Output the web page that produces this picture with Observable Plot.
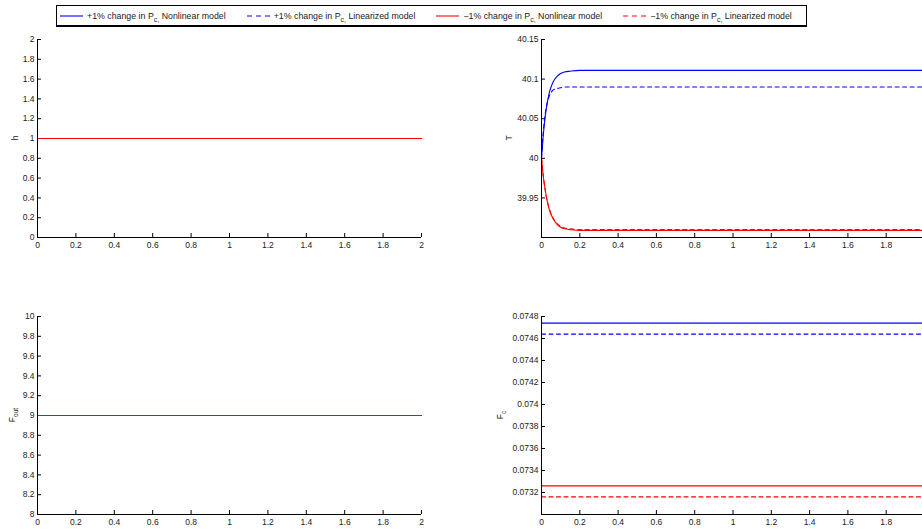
<!DOCTYPE html>
<html><head><meta charset="utf-8">
<script src="https://cdn.jsdelivr.net/npm/d3@7"></script>
<script src="https://cdn.jsdelivr.net/npm/@observablehq/plot@0.6"></script>
<style>
html,body{margin:0;padding:0;background:#fff;}
#wrap{position:relative;width:922px;height:529px;overflow:hidden;background:#fff;font-family:"Liberation Sans",Arial,Helvetica,sans-serif;}
.panel{position:absolute;}
#legend{position:absolute;left:56px;top:5px;width:746px;height:19px;border:1px solid #000;border-bottom:2px solid #000;font-size:8.8px;color:#222;display:flex;align-items:center;padding-left:3px;box-sizing:content-box;}
.item{display:flex;align-items:center;white-space:nowrap;margin-right:21px;}
.item svg{margin-right:4px;}
.item sub{font-size:7px;vertical-align:-3px;line-height:0;}
</style></head><body><div id="wrap"><div id="legend"></div></div>
<script>
// ---- data ----
const xTicks = [0, 0.2, 0.4, 0.6, 0.8, 1, 1.2, 1.4, 1.6, 1.8, 2];
const hTicks = [0, 0.2, 0.4, 0.6, 0.8, 1, 1.2, 1.4, 1.6, 1.8, 2];
const foutTicks = [8, 8.2, 8.4, 8.6, 8.8, 9, 9.2, 9.4, 9.6, 9.8, 10];
const TTicks = [39.95, 40, 40.05, 40.1, 40.15];
const FcTicks = [0.0732, 0.0734, 0.0736, 0.0738, 0.074, 0.0742, 0.0744, 0.0746, 0.0748];

const legendPrefix = ["+1% change in P", "+1% change in P", "\u22121% change in P", "\u22121% change in P"];
const legendSub = ["c,", "c,", "c,", "c,"];
const legendModel = [" Nonlinear model", " Linearized model", " Nonlinear model", " Linearized model"];

// steady-state series (time 0 to 2)
const tFlat = [0, 2];
const hValues = [1, 1, 1, 1];
const foutValues = [9, 9, 9, 9];
const FcValues = [0.07474, 0.07464, 0.07326, 0.07316];

// temperature transient
const tTime = [0, 0.01, 0.02, 0.03, 0.04, 0.05, 0.06, 0.08, 0.10, 0.12, 0.15, 0.2, 0.3, 0.5, 1, 1.5, 2];
const TposNonlin = [40, 40.031, 40.054, 40.070, 40.082, 40.090, 40.096, 40.103, 40.107, 40.109, 40.110, 40.111, 40.111, 40.111, 40.111, 40.111, 40.111];
const TposLin    = [40, 40.035, 40.057, 40.070, 40.078, 40.083, 40.086, 40.088, 40.089, 40.090, 40.090, 40.090, 40.090, 40.090, 40.090, 40.090, 40.090];
const TnegNonlin = [40, 39.976, 39.959, 39.946, 39.936, 39.929, 39.924, 39.917, 39.913, 39.911, 39.910, 39.909, 39.909, 39.909, 39.909, 39.909, 39.909];
const TnegLin    = [40, 39.976, 39.959, 39.946, 39.937, 39.930, 39.925, 39.918, 39.914, 39.912, 39.911, 39.910, 39.910, 39.910, 39.910, 39.910, 39.910];

// ---- styles ----
const colors = ["#0000ff", "#0000ff", "#ff0000", "#ff0000"];
const dashes = [null, "4,3.5", null, "4,3.5"];
const FONT = '"Liberation Sans", Arial, Helvetica, sans-serif';

function flatSeries(vals) {
  return vals.map(v => tFlat.map(t => ({t, v})));
}
const Tseries = [TposNonlin, TposLin, TnegNonlin, TnegLin].map(arr => arr.map((v, i) => ({t: tTime[i], v})));

const wrap = document.getElementById("wrap");

function panel({left, top, ml, innerW, yDomain, yTicks, yFmt, series, label, sub, labelX}) {
  const innerH = 198, mt = 9, mb = 22, mr = 15;
  const chart = Plot.plot({
    width: ml + innerW + mr, height: mt + innerH + mb,
    marginLeft: ml, marginRight: mr, marginTop: mt, marginBottom: mb,
    style: {fontFamily: FONT, fontSize: "8.5px", color: "#222", background: "transparent", maxWidth: "none", overflow: "visible"},
    x: {domain: [0, 2], label: null},
    y: {domain: yDomain, label: null},
    marks: [
      Plot.tickX(xTicks, {x: d => d, insetTop: innerH - 4, stroke: "#000", strokeWidth: 1}),
      Plot.tickY(yTicks, {y: d => d, insetRight: innerW - 4, stroke: "#000", strokeWidth: 1}),
      Plot.axisX(xTicks, {tickSize: 0, tickPadding: 4, tickFormat: d => String(+d.toFixed(1)), label: null}),
      Plot.axisY(yTicks, {tickSize: 0, tickPadding: 3, tickFormat: yFmt, label: null}),
      ...series.map((s, i) => Plot.line(s, {x: "t", y: "v", stroke: colors[i], strokeWidth: 1.1, strokeDasharray: dashes[i], curve: "monotone-x"})),
      Plot.ruleX([0], {stroke: "#000", strokeWidth: 1}),
      Plot.ruleY([yDomain[0]], {stroke: "#000", strokeWidth: 1})
    ]
  });
  const div = document.createElement("div");
  div.className = "panel";
  div.style.left = left + "px";
  div.style.top = top + "px";
  div.style.width = (ml + innerW + mr) + "px";
  div.appendChild(chart);
  wrap.appendChild(div);
  const t = d3.select(chart).append("text")
    .attr("transform", `translate(${labelX},${mt + innerH / 2}) rotate(-90)`)
    .attr("text-anchor", "middle")
    .attr("font-size", "8.5px")
    .attr("fill", "#222");
  t.append("tspan").text(label);
  if (sub) t.append("tspan").attr("font-size", "6.5px").attr("dy", "2.5").text(sub);
}

panel({left: 0, top: 30, ml: 37, innerW: 384, yDomain: [0, 2], yTicks: hTicks,
  yFmt: d => String(+d.toFixed(1)), series: flatSeries(hValues), label: "h", labelX: 18});
panel({left: 0, top: 307, ml: 37, innerW: 384, yDomain: [8, 10], yTicks: foutTicks,
  yFmt: d => String(+d.toFixed(1)), series: flatSeries(foutValues), label: "F", sub: "out", labelX: 15});
panel({left: 461, top: 30, ml: 80, innerW: 383, yDomain: [39.9, 40.15], yTicks: TTicks,
  yFmt: d => String(+d.toFixed(2)), series: Tseries, label: "T", labelX: 51});
panel({left: 461, top: 307, ml: 80, innerW: 383, yDomain: [0.073, 0.0748], yTicks: FcTicks,
  yFmt: d => String(+d.toFixed(4)), series: flatSeries(FcValues), label: "F", sub: "c", labelX: 42});

// legend
const legend = d3.select("#legend");
legendPrefix.forEach((p, i) => {
  const item = legend.append("div").attr("class", "item");
  const sw = item.append("svg").attr("width", 23).attr("height", 6);
  sw.append("line").attr("x1", 0).attr("x2", 23).attr("y1", 3).attr("y2", 3)
    .attr("stroke", colors[i]).attr("stroke-width", 1.1)
    .attr("stroke-dasharray", dashes[i] ? "5,4" : null);
  const span = item.append("span");
  span.append("span").text(p);
  span.append("sub").text(legendSub[i]);
  span.append("span").text(legendModel[i]);
});
</script></body></html>
